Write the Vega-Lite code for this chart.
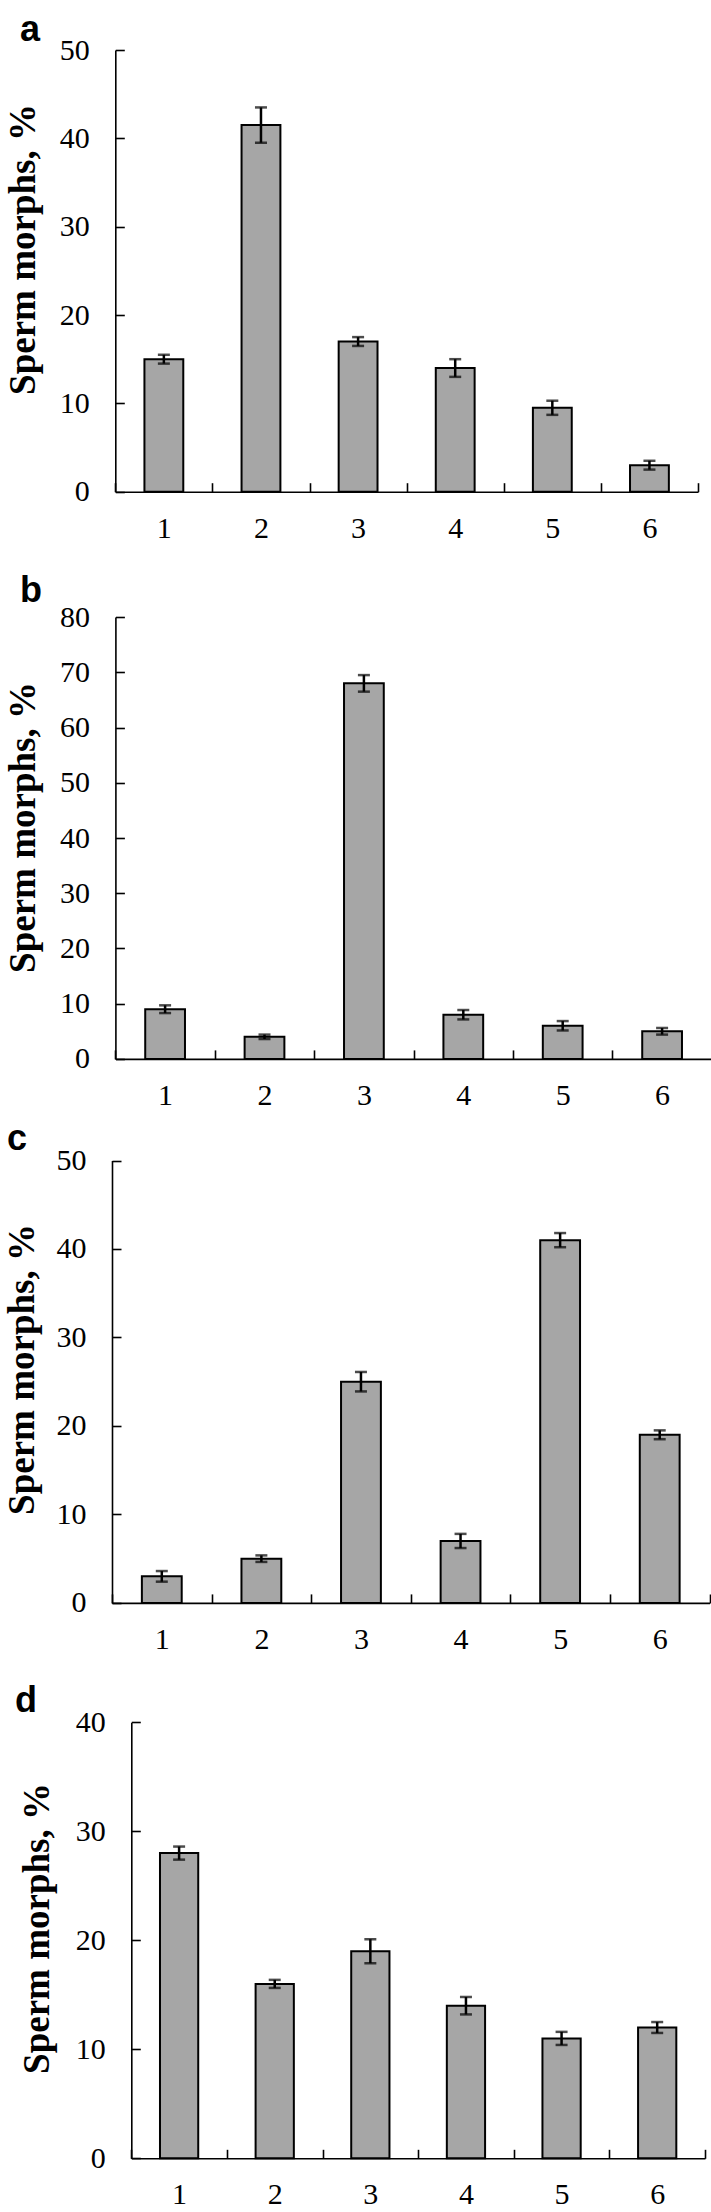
{
  "$schema": "https://vega.github.io/schema/vega-lite/v6.json",
  "background": "white",
  "padding": {"left": 3, "top": 0, "right": 0, "bottom": 0},
  "bounds": "flush",
  "spacing": 0,
  "datasets": {
    "morphs": [
      {"panel": "a", "morph": "1", "value": 15, "lo": 14.5, "hi": 15.5},
      {"panel": "a", "morph": "2", "value": 41.5, "lo": 39.5, "hi": 43.5},
      {"panel": "a", "morph": "3", "value": 17, "lo": 16.5, "hi": 17.5},
      {"panel": "a", "morph": "4", "value": 14, "lo": 13, "hi": 15},
      {"panel": "a", "morph": "5", "value": 9.5, "lo": 8.7, "hi": 10.3},
      {"panel": "a", "morph": "6", "value": 3, "lo": 2.5, "hi": 3.5},
      {"panel": "b", "morph": "1", "value": 9, "lo": 8.3, "hi": 9.7},
      {"panel": "b", "morph": "2", "value": 4, "lo": 3.6, "hi": 4.4},
      {"panel": "b", "morph": "3", "value": 68, "lo": 66.5, "hi": 69.5},
      {"panel": "b", "morph": "4", "value": 8, "lo": 7.15, "hi": 8.85},
      {"panel": "b", "morph": "5", "value": 6, "lo": 5.15, "hi": 6.85},
      {"panel": "b", "morph": "6", "value": 5, "lo": 4.4, "hi": 5.6},
      {"panel": "c", "morph": "1", "value": 3, "lo": 2.4, "hi": 3.6},
      {"panel": "c", "morph": "2", "value": 5, "lo": 4.63, "hi": 5.37},
      {"panel": "c", "morph": "3", "value": 25, "lo": 23.9, "hi": 26.1},
      {"panel": "c", "morph": "4", "value": 7, "lo": 6.2, "hi": 7.8},
      {"panel": "c", "morph": "5", "value": 41, "lo": 40.2, "hi": 41.8},
      {"panel": "c", "morph": "6", "value": 19, "lo": 18.5, "hi": 19.5},
      {"panel": "d", "morph": "1", "value": 28, "lo": 27.4, "hi": 28.6},
      {"panel": "d", "morph": "2", "value": 16, "lo": 15.63, "hi": 16.37},
      {"panel": "d", "morph": "3", "value": 19, "lo": 17.9, "hi": 20.1},
      {"panel": "d", "morph": "4", "value": 14, "lo": 13.2, "hi": 14.8},
      {"panel": "d", "morph": "5", "value": 11, "lo": 10.4, "hi": 11.6},
      {"panel": "d", "morph": "6", "value": 12, "lo": 11.5, "hi": 12.5}
    ]
  },
  "data": {"name": "morphs"},
  "vconcat": [
    {
      "width": 586, "height": 560,
      "title": {"text": "a", "dx": -92, "offset": -49},
      "transform": [{"filter": "datum.panel === 'a'"}],
      "encoding": {
        "x": {"field": "morph", "type": "ordinal", "scale": {"range": [3.3, 586], "paddingInner": 0, "paddingOuter": 0}, "axis": {"offset": -68.3}}
      },
      "layer": [
        {
          "mark": {"type": "bar", "width": {"band": 0.4}, "fill": "#a6a6a6", "stroke": "black", "strokeWidth": 2},
          "encoding": {"y": {"field": "value", "type": "quantitative", "title": "Sperm morphs, %", "scale": {"domain": [0, 50], "range": [491.7, 50], "nice": false}, "axis": {"values": [0, 10, 20, 30, 40, 50], "offset": -3.3, "titleX": -81.3, "titleY": 249}}}
        },
        {
          "mark": {"type": "errorbar", "color": "black", "ticks": {"size": 12, "thickness": 2.5, "color": "black"}, "rule": {"strokeWidth": 2.5}},
          "encoding": {"y": {"field": "lo", "type": "quantitative", "title": "Sperm morphs, %"}, "y2": {"field": "hi"}}
        }
      ]
    },
    {
      "width": 600, "height": 560,
      "title": {"text": "b", "dx": -92, "offset": -50},
      "transform": [{"filter": "datum.panel === 'b'"}],
      "encoding": {
        "x": {"field": "morph", "type": "ordinal", "scale": {"range": [3.4, 599.8], "paddingInner": 0, "paddingOuter": 0}, "axis": {"offset": -61.1}}
      },
      "layer": [
        {
          "mark": {"type": "bar", "width": {"band": 0.4}, "fill": "#a6a6a6", "stroke": "black", "strokeWidth": 2},
          "encoding": {"y": {"field": "value", "type": "quantitative", "title": "Sperm morphs, %", "scale": {"domain": [0, 80], "range": [498.9, 57.1], "nice": false}, "axis": {"values": [0, 10, 20, 30, 40, 50, 60, 70, 80], "offset": -3.4, "titleX": -81.4, "titleY": 267}}}
        },
        {
          "mark": {"type": "errorbar", "color": "black", "ticks": {"size": 12, "thickness": 2.5, "color": "black"}, "rule": {"strokeWidth": 2.5}},
          "encoding": {"y": {"field": "lo", "type": "quantitative", "title": "Sperm morphs, %"}, "y2": {"field": "hi"}}
        }
      ]
    },
    {
      "width": 598, "height": 560,
      "title": {"text": "c", "dx": -105, "offset": -38},
      "transform": [{"filter": "datum.panel === 'c'"}],
      "encoding": {
        "x": {"field": "morph", "type": "ordinal", "scale": {"range": [0, 597.5], "paddingInner": 0, "paddingOuter": 0}, "axis": {"offset": -77.1}}
      },
      "layer": [
        {
          "mark": {"type": "bar", "width": {"band": 0.4}, "fill": "#a6a6a6", "stroke": "black", "strokeWidth": 2},
          "encoding": {"y": {"field": "value", "type": "quantitative", "title": "Sperm morphs, %", "scale": {"domain": [0, 50], "range": [482.9, 40.5], "nice": false}, "axis": {"values": [0, 10, 20, 30, 40, 50], "offset": 0, "titleX": -79, "titleY": 249}}}
        },
        {
          "mark": {"type": "errorbar", "color": "black", "ticks": {"size": 12, "thickness": 2.5, "color": "black"}, "rule": {"strokeWidth": 2.5}},
          "encoding": {"y": {"field": "lo", "type": "quantitative", "title": "Sperm morphs, %"}, "y2": {"field": "hi"}}
        }
      ]
    },
    {
      "width": 593, "height": 532,
      "title": {"text": "d", "dx": -97, "offset": -40},
      "transform": [{"filter": "datum.panel === 'd'"}],
      "encoding": {
        "x": {"field": "morph", "type": "ordinal", "scale": {"range": [19.3, 593], "paddingInner": 0, "paddingOuter": 0}, "axis": {"offset": -53.7}}
      },
      "layer": [
        {
          "mark": {"type": "bar", "width": {"band": 0.4}, "fill": "#a6a6a6", "stroke": "black", "strokeWidth": 2},
          "encoding": {"y": {"field": "value", "type": "quantitative", "title": "Sperm morphs, %", "scale": {"domain": [0, 40], "range": [478.3, 42.3], "nice": false}, "axis": {"values": [0, 10, 20, 30, 40], "offset": -19.3, "titleX": -83, "titleY": 248}}}
        },
        {
          "mark": {"type": "errorbar", "color": "black", "ticks": {"size": 12, "thickness": 2.5, "color": "black"}, "rule": {"strokeWidth": 2.5}},
          "encoding": {"y": {"field": "lo", "type": "quantitative", "title": "Sperm morphs, %"}, "y2": {"field": "hi"}}
        }
      ]
    }
  ],
  "config": {
    "view": {"stroke": null},
    "title": {"anchor": "start", "frame": "group", "baseline": "alphabetic", "font": "Liberation Sans", "fontSize": 36, "fontWeight": "bold", "color": "black"},
    "axis": {
      "domainColor": "black", "domainWidth": 1.6,
      "tickColor": "black", "tickWidth": 1.6, "tickSize": -9,
      "labelFont": "Liberation Serif", "labelFontSize": 30, "labelColor": "black",
      "titleFont": "Liberation Serif", "titleFontSize": 37, "titleFontWeight": "bold", "titleColor": "black",
      "grid": false
    },
    "axisX": {"title": null, "labelAngle": 0, "tickBand": "extent", "labelPadding": 30.3, "labelBaseline": "top"},
    "axisY": {"labelPadding": 35, "titleAngle": 270, "titleAlign": "center", "titleBaseline": "alphabetic"}
  }
}
